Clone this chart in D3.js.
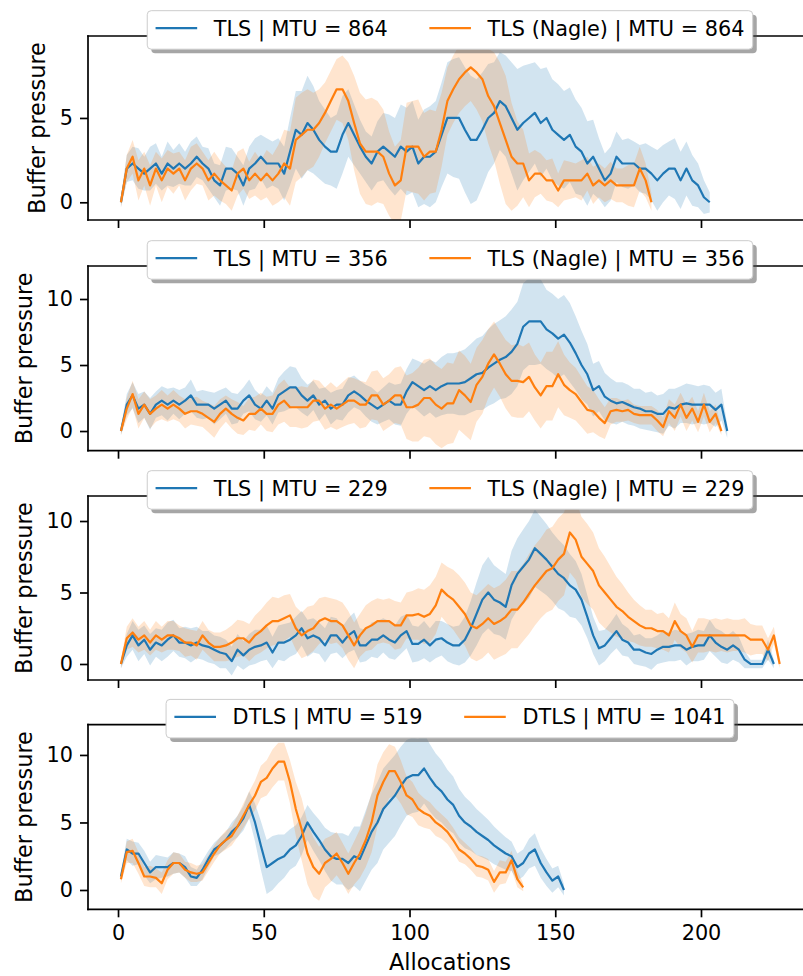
<!DOCTYPE html>
<html>
<head>
<meta charset="utf-8">
<script src="https://cdn.jsdelivr.net/npm/d3@7"></script>
<style>
  body { margin: 0; background: #fff; }
  svg { display: block; font-family: "DejaVu Sans", sans-serif; }
</style>
</head>
<body>
<div id="chart"></div>
<script>
// allocations are sampled every 2 steps, starting at 1
var allocStart = 1;
var allocStep = 2;

// panel 1 : MTU 864
var tls864Mean = [0, 2.0, 2.3, 2.0, 1.7, 2.0, 2.3, 1.7, 2.3, 2.0,
  2.3, 2.0, 2.3, 2.7, 2.3, 2.0, 1.3, 1.0, 2.0, 2.0,
  1.7, 1.0, 2.0, 2.3, 2.7, 2.3, 2.3, 2.3, 1.7, 3.0,
  4.3, 4.0, 4.7, 4.3, 3.7, 3.3, 3.0, 3.0, 4.0, 4.7,
  4.0, 3.3, 2.7, 2.3, 3.0, 3.3, 3.0, 2.7, 3.3, 3.0,
  3.3, 2.3, 2.7, 2.7, 3.0, 4.0, 5.0, 5.0, 5.0, 4.3,
  3.7, 3.7, 4.3, 5.0, 5.3, 6.0, 5.7, 5.0, 4.3, 4.7,
  5.0, 5.3, 4.7, 5.0, 4.3, 4.0, 3.7, 4.0, 3.3, 3.0,
  2.3, 2.7, 2.0, 1.3, 1.7, 2.7, 2.3, 2.3, 2.3, 2.0,
  2.0, 1.7, 1.3, 1.7, 2.0, 2.0, 1.3, 2.0, 1.3, 1.0,
  0.3, 0];
var tls864Sd = [0.3, 0.8, 1.0, 1.2, 1.0, 1.3, 1.2, 1.0, 1.3, 1.1,
  1.2, 1.0, 1.3, 1.2, 1.0, 1.2, 1.0, 1.2, 1.3, 1.2,
  1.0, 1.2, 1.3, 1.5, 1.3, 1.5, 1.3, 1.5, 1.6, 2.0,
  2.3, 2.6, 2.8, 2.6, 2.3, 2.2, 2.0, 2.2, 2.3, 2.0,
  1.8, 1.6, 1.5, 1.6, 1.8, 2.0, 2.2, 2.3, 2.5, 2.6,
  2.7, 2.6, 2.8, 3.0, 3.0, 3.1, 3.3, 3.5, 3.6, 3.7,
  3.8, 3.6, 3.4, 3.2, 3.0, 2.9, 3.0, 3.3, 3.6, 3.4,
  3.2, 3.0, 3.2, 3.0, 3.0, 3.0, 2.9, 2.8, 2.8, 2.6,
  2.5, 2.2, 1.8, 1.6, 1.6, 1.5, 1.4, 1.5, 1.3, 1.4,
  1.5, 1.6, 1.8, 1.7, 1.6, 1.8, 1.7, 1.6, 1.5, 1.3,
  1.0, 0.6];
var nagle864Mean = [0, 2.0, 2.7, 1.3, 2.0, 1.0, 2.0, 1.3, 2.0, 1.7,
  2.0, 1.3, 2.0, 2.3, 2.0, 1.3, 1.7, 1.3, 1.0, 0.7,
  1.7, 2.0, 1.3, 1.7, 1.3, 1.7, 1.3, 1.7, 2.3, 2.0,
  3.7, 4.0, 4.3, 4.3, 4.7, 5.3, 6.0, 6.7, 6.7, 6.0,
  4.7, 3.5, 3.0, 3.0, 3.0, 2.7, 1.7, 1.0, 1.3, 3.3,
  3.3, 3.3, 2.7, 3.0, 3.0, 4.3, 6.0, 6.7, 7.3, 7.7,
  8.0, 7.7, 7.3, 6.3, 5.7, 4.7, 3.7, 2.7, 2.3, 2.3,
  1.3, 1.7, 1.7, 1.3, 1.3, 0.7, 1.3, 1.3, 1.3, 1.3,
  1.7, 1.0, 1.3, 1.0, 1.3, 1.0, 1.0, 1.0, 1.0, 2.0,
  1.3, 0];
var nagle864Sd = [0.3, 0.8, 1.0, 1.2, 1.0, 1.2, 1.0, 1.3, 1.1, 1.2,
  1.0, 1.2, 1.3, 1.2, 1.0, 1.2, 1.3, 1.2, 1.1, 1.2,
  1.3, 1.2, 1.1, 1.3, 1.2, 1.4, 1.5, 1.7, 2.0, 2.2,
  2.5, 2.5, 2.4, 2.2, 2.0, 1.8, 1.8, 1.8, 2.0, 2.3,
  2.8, 3.0, 3.1, 3.2, 3.0, 2.8, 2.5, 2.3, 2.4, 2.6,
  2.7, 2.8, 2.6, 2.5, 2.4, 2.2, 2.0, 2.0, 2.0, 2.0,
  2.0, 2.2, 2.5, 2.8, 3.2, 3.6, 3.8, 3.2, 2.5, 2.0,
  1.6, 1.4, 1.2, 1.2, 1.3, 1.0, 1.2, 1.1, 1.0, 1.2,
  1.0, 1.1, 1.0, 1.0, 1.1, 1.0, 1.0, 1.2, 1.3, 1.3,
  1.0, 0.5];

// panel 2 : MTU 356
var tls356Mean = [0, 2.0, 2.7, 1.7, 2.0, 1.3, 2.0, 2.3, 2.0, 2.3,
  2.0, 2.3, 2.7, 2.0, 2.0, 2.0, 1.7, 2.0, 2.3, 1.7,
  1.7, 2.3, 2.7, 2.0, 1.7, 2.3, 1.7, 2.7, 3.0, 3.3,
  3.3, 2.7, 2.3, 2.7, 2.0, 2.3, 1.7, 2.0, 2.0, 2.7,
  3.0, 2.7, 2.3, 2.0, 1.7, 2.0, 2.3, 2.0, 2.0, 3.0,
  3.7, 3.4, 3.1, 3.4, 3.1, 3.4, 3.6, 3.6, 3.6, 3.7,
  4.0, 4.3, 4.4, 4.8, 5.1, 5.4, 5.6, 6.0, 6.6, 7.9,
  8.3, 8.3, 8.3, 7.7, 7.4, 7.0, 7.3, 6.7, 5.9, 5.0,
  4.3, 3.1, 3.4, 2.6, 2.3, 2.1, 2.2, 2.0, 1.8, 1.7,
  1.5, 1.5, 1.3, 1.3, 1.8, 1.7, 2.0, 2.1, 2.0, 2.0,
  2.0, 2.0, 1.6, 2.0, 0];
var tls356Sd = [0.3, 0.8, 1.0, 1.1, 1.0, 1.2, 1.0, 1.1, 1.2, 1.0,
  1.1, 1.0, 1.2, 1.0, 1.1, 1.0, 1.2, 1.1, 1.0, 1.2,
  1.1, 1.0, 1.2, 1.1, 1.0, 1.1, 1.2, 1.3, 1.5, 1.6,
  1.5, 1.3, 1.2, 1.1, 1.2, 1.0, 1.2, 1.1, 1.2, 1.3,
  1.2, 1.1, 1.2, 1.3, 1.2, 1.3, 1.4, 1.5, 1.6, 1.7,
  1.8, 1.9, 2.0, 2.0, 2.1, 2.2, 2.3, 2.3, 2.4, 2.5,
  2.6, 2.7, 2.8, 2.9, 3.0, 3.0, 3.1, 3.2, 3.2, 3.3,
  3.3, 3.3, 3.2, 3.0, 3.0, 3.0, 3.0, 3.0, 2.8, 2.6,
  2.3, 2.0, 1.9, 1.8, 1.7, 1.6, 1.5, 1.5, 1.4, 1.5,
  1.4, 1.5, 1.4, 1.5, 1.4, 1.5, 1.4, 1.5, 1.5, 1.4,
  1.5, 1.4, 1.3, 1.2, 0.5];
var nagle356Mean = [0, 1.7, 2.8, 1.3, 2.0, 1.3, 1.7, 2.0, 1.7, 2.0,
  1.7, 1.3, 1.5, 1.5, 1.3, 1.0, 0.7, 1.3, 1.7, 1.3,
  1.0, 0.8, 1.3, 1.3, 1.7, 1.3, 1.3, 2.0, 2.3, 1.8,
  1.8, 1.8, 1.8, 2.3, 2.3, 1.7, 2.0, 1.7, 2.0, 2.3,
  2.3, 2.0, 2.0, 2.7, 2.7, 2.0, 2.3, 2.7, 2.7, 1.8,
  1.8, 2.0, 2.5, 2.5, 2.0, 1.7, 2.1, 2.1, 3.1, 2.7,
  2.2, 3.5, 4.1, 5.1, 5.8, 5.1, 4.3, 3.8, 3.8, 3.7,
  4.1, 3.3, 2.7, 3.4, 3.4, 4.3, 3.5, 3.1, 2.8, 2.2,
  1.6, 1.5, 1.0, 0.6, 1.5, 1.6, 1.5, 1.6, 1.3, 1.2,
  1.2, 1.2, 0.8, 0.3, 1.5, 1.0, 2.0, 1.0, 1.7, 0.7,
  2.0, 0.7, 1.3, 0];
var nagle356Sd = [0.3, 0.8, 1.0, 1.1, 1.0, 1.1, 1.0, 1.1, 1.0, 1.1,
  1.0, 1.1, 1.0, 1.1, 1.0, 1.1, 1.2, 1.1, 1.0, 1.1,
  1.2, 1.1, 1.2, 1.3, 1.2, 1.3, 1.4, 1.5, 1.6, 1.5,
  1.5, 1.6, 1.5, 1.6, 1.5, 1.6, 1.7, 1.6, 1.7, 1.8,
  1.7, 1.8, 1.7, 1.8, 1.9, 2.0, 2.0, 2.1, 2.2, 2.4,
  2.6, 2.8, 2.9, 3.0, 3.0, 3.0, 3.1, 3.0, 3.0, 3.0,
  2.9, 2.8, 2.8, 2.6, 2.5, 2.5, 2.6, 2.7, 2.8, 2.7,
  2.6, 2.5, 2.5, 2.6, 2.6, 2.5, 2.3, 2.1, 2.0, 1.9,
  1.8, 1.6, 1.4, 1.2, 1.0, 0.9, 0.8, 0.8, 0.7, 0.7,
  0.7, 0.7, 0.8, 0.7, 0.9, 1.0, 0.9, 1.0, 0.9, 0.8,
  0.9, 0.8, 0.7, 0.3];

// panel 3 : MTU 229
var tls229Mean = [0, 1.3, 2.0, 1.3, 1.7, 1.0, 1.5, 1.3, 1.7, 2.0,
  1.5, 1.5, 1.3, 1.5, 1.3, 1.2, 1.0, 0.8, 0.7, 0.2,
  1.0, 0.6, 1.0, 1.2, 1.3, 1.5, 0.8, 1.5, 1.5, 1.7,
  2.0, 2.5, 1.8, 2.0, 1.8, 1.3, 2.0, 2.0, 1.5, 2.0,
  2.3, 1.3, 1.3, 1.7, 1.7, 2.0, 1.7, 1.5, 2.0, 2.3,
  1.4, 1.4, 1.7, 1.3, 1.7, 1.8, 1.5, 1.3, 1.3, 1.7,
  2.5, 3.5, 4.5, 5.0, 4.5, 4.3, 4.0, 5.5, 6.3, 6.8,
  7.3, 8.1, 7.7, 7.3, 6.8, 6.3, 6.0, 5.5, 5.2, 4.5,
  3.3, 2.0, 1.1, 1.3, 1.8, 2.3, 1.7, 1.5, 1.0, 1.0,
  0.8, 0.7, 1.0, 1.2, 1.2, 1.3, 1.3, 1.0, 1.2, 1.3,
  1.3, 2.0, 1.5, 1.2, 1.0, 1.3, 1.0, 0.3, 0, 0,
  0, 1.0, 0];
var tls229Sd = [0.3, 0.8, 1.0, 1.1, 1.0, 1.1, 1.0, 1.1, 1.2, 1.1,
  1.0, 1.1, 1.2, 1.1, 1.0, 1.1, 1.0, 1.1, 1.0, 1.0,
  1.1, 1.0, 1.1, 1.2, 1.1, 1.2, 1.1, 1.2, 1.3, 1.2,
  1.3, 1.2, 1.3, 1.2, 1.1, 1.2, 1.3, 1.2, 1.1, 1.2,
  1.3, 1.2, 1.1, 1.2, 1.3, 1.2, 1.3, 1.2, 1.3, 1.2,
  1.3, 1.2, 1.3, 1.2, 1.3, 1.2, 1.3, 1.3, 1.4, 1.6,
  1.9, 2.2, 2.4, 2.5, 2.4, 2.3, 2.3, 2.4, 2.5, 2.6,
  2.7, 2.7, 2.6, 2.5, 2.4, 2.4, 2.3, 2.2, 2.0, 1.8,
  1.5, 1.3, 1.2, 1.1, 1.1, 1.2, 1.1, 1.0, 1.0, 1.1,
  1.0, 1.1, 1.0, 1.1, 1.0, 1.1, 1.0, 1.1, 1.0, 1.1,
  1.0, 1.1, 1.0, 1.1, 1.0, 1.0, 0.9, 0.6, 0.3, 0.3,
  0.3, 0.7, 0.3];
var nagle229Mean = [0, 1.8, 2.2, 1.7, 2.0, 1.5, 2.0, 1.7, 2.0, 2.0,
  1.8, 1.5, 1.5, 1.3, 2.0, 1.5, 1.2, 1.2, 1.3, 1.5,
  1.8, 1.8, 1.5, 2.0, 2.3, 2.7, 3.0, 3.0, 3.2, 3.4,
  2.5, 2.0, 2.3, 2.5, 3.0, 3.2, 3.0, 3.0, 2.7, 2.0,
  1.3, 2.0, 2.5, 2.7, 3.0, 3.0, 3.0, 2.7, 2.7, 3.4,
  3.4, 3.5, 3.3, 3.5, 4.1, 5.2, 4.8, 4.5, 4.0, 3.5,
  2.7, 2.5, 2.8, 3.2, 2.8, 3.0, 3.3, 3.8, 3.8, 4.3,
  4.9, 5.5, 6.0, 6.5, 6.7, 7.3, 7.7, 9.2, 8.7, 7.5,
  7.0, 6.5, 5.5, 5.0, 4.5, 4.0, 3.7, 3.3, 3.0, 2.7,
  2.5, 2.5, 2.3, 2.3, 2.0, 3.0, 2.3, 2.0, 1.2, 2.0,
  2.0, 2.0, 2.0, 2.0, 2.0, 2.0, 2.0, 2.0, 1.7, 1.7,
  1.7, 1.0, 2.0, 0];
var nagle229Sd = [0.3, 0.8, 1.0, 0.9, 1.0, 0.9, 1.0, 0.9, 1.0, 1.0,
  0.9, 1.0, 0.9, 1.0, 1.0, 0.9, 1.0, 1.0, 1.1, 1.2,
  1.3, 1.2, 1.3, 1.4, 1.5, 1.6, 1.7, 1.6, 1.6, 1.5,
  1.5, 1.6, 1.7, 1.6, 1.6, 1.5, 1.6, 1.5, 1.6, 1.7,
  1.6, 1.5, 1.6, 1.7, 1.6, 1.5, 1.6, 1.7, 1.6, 1.6,
  1.7, 1.8, 1.9, 2.0, 2.0, 1.9, 2.0, 2.1, 2.2, 2.2,
  2.3, 2.3, 2.4, 2.4, 2.5, 2.5, 2.6, 2.7, 2.7, 2.7,
  2.8, 2.8, 2.8, 2.9, 2.9, 2.9, 2.9, 2.8, 2.8, 2.8,
  2.8, 2.7, 2.6, 2.5, 2.3, 2.1, 1.9, 1.7, 1.5, 1.4,
  1.3, 1.3, 1.2, 1.3, 1.2, 1.3, 1.2, 1.2, 1.1, 1.2,
  1.2, 1.1, 1.2, 1.1, 1.2, 1.1, 1.1, 1.2, 1.1, 1.0,
  1.0, 0.8, 0.6, 0.3];

// panel 4 : DTLS
var dtls519Mean = [1.0, 3.0, 2.7, 2.7, 2.0, 1.3, 1.7, 1.7, 1.7, 2.0,
  2.0, 1.7, 1.0, 0.9, 1.5, 2.3, 3.0, 3.3, 3.7, 4.3,
  4.7, 5.3, 6.3, 5.0, 3.3, 1.7, 2.0, 2.3, 2.5, 3.0,
  3.3, 4.0, 5.0, 4.3, 3.7, 3.0, 2.5, 2.3, 2.3, 2.0,
  2.5, 2.3, 3.3, 4.3, 5.0, 6.0, 6.5, 7.0, 7.7, 8.3,
  8.5, 8.5, 9.0, 8.3, 7.7, 7.3, 6.7, 6.3, 5.5, 5.0,
  4.7, 4.3, 4.0, 3.7, 3.3, 3.0, 2.7, 2.5, 1.7, 2.0,
  2.7, 3.0, 2.0, 1.3, 0.7, 1.0, 0];
var dtls519Sd = [0.3, 0.8, 0.9, 0.8, 0.9, 0.8, 0.9, 0.8, 0.7, 0.8,
  0.7, 0.8, 0.7, 0.6, 0.7, 0.6, 0.5, 0.6, 0.6, 0.7,
  0.8, 0.9, 1.0, 1.4, 1.8, 2.0, 2.0, 1.8, 1.6, 1.5,
  1.5, 1.4, 1.3, 1.4, 1.5, 1.6, 1.8, 1.9, 1.9, 2.0,
  2.2, 2.4, 2.6, 2.8, 3.0, 3.0, 3.0, 3.0, 2.9, 2.8,
  2.8, 2.7, 2.6, 2.5, 2.4, 2.3, 2.2, 2.1, 2.0, 1.9,
  1.8, 1.7, 1.6, 1.5, 1.4, 1.3, 1.2, 1.1, 1.0, 1.0,
  1.1, 1.2, 1.1, 1.0, 0.9, 0.8, 0.4];
var dtls1041Mean = [0.8, 2.8, 2.9, 2.0, 1.0, 1.0, 0.9, 0.5, 1.5, 2.0,
  2.0, 1.5, 1.3, 1.2, 1.3, 2.0, 2.7, 3.3, 3.7, 4.0,
  4.7, 5.5, 6.3, 7.0, 8.0, 8.3, 9.0, 9.5, 9.5, 8.0,
  6.0, 4.5, 2.7, 1.7, 1.2, 2.0, 2.3, 2.7, 2.0, 1.2,
  2.0, 2.7, 3.7, 5.0, 7.0, 8.0, 8.8, 8.8, 8.0, 7.0,
  6.7, 6.0, 5.7, 5.5, 5.0, 4.7, 4.3, 3.7, 3.0, 2.7,
  2.3, 1.8, 1.7, 1.5, 0.6, 1.3, 1.3, 2.2, 0.8, 0.2];
var dtls1041Sd = [0.3, 0.8, 0.9, 0.8, 0.7, 0.8, 0.7, 0.8, 0.7, 0.8,
  0.7, 0.6, 0.7, 0.6, 0.6, 0.6, 0.6, 0.6, 0.7, 0.7,
  0.8, 0.9, 1.0, 1.1, 1.2, 1.3, 1.4, 1.4, 1.4, 1.6,
  2.0, 2.3, 2.3, 2.2, 2.0, 1.8, 1.7, 1.6, 1.5, 1.5,
  1.6, 1.8, 2.0, 2.2, 2.3, 2.2, 2.0, 1.8, 1.6, 1.4,
  1.3, 1.2, 1.1, 1.0, 1.0, 0.9, 0.9, 0.9, 0.9, 0.8,
  0.8, 0.8, 0.8, 0.8, 0.8, 0.9, 0.8, 0.7, 0.6, 0.3];

var legend864 = ["TLS | MTU = 864", "TLS (Nagle) | MTU = 864"];
var legend356 = ["TLS | MTU = 356", "TLS (Nagle) | MTU = 356"];
var legend229 = ["TLS | MTU = 229", "TLS (Nagle) | MTU = 229"];
var legendDtls = ["DTLS | MTU = 519", "DTLS | MTU = 1041"];
var xTickValues = [0, 50, 100, 150, 200];
var yTicksSmall = [0, 5];
var yTicksLarge = [0, 5, 10];

var seriesColors = ["#1f77b4", "#ff7f0e"];

// SVG area
var svgWidth = 803;
var svgHeight = 976;
var plotLeft = 88;
var plotRight = 806.8;
var fontSize = 20.8;

var panels = [
  { top: 36, bottom: 220, yDomain: [-1.05, 9.86], yTicks: yTicksSmall, labelX: 45,
    series: [[tls864Mean, tls864Sd], [nagle864Mean, nagle864Sd]], legend: legend864 },
  { top: 266, bottom: 450.7, yDomain: [-1.49, 12.5], yTicks: yTicksLarge, labelX: 32,
    series: [[tls356Mean, tls356Sd], [nagle356Mean, nagle356Sd]], legend: legend356 },
  { top: 496, bottom: 680, yDomain: [-1.12, 11.75], yTicks: yTicksLarge, labelX: 32,
    series: [[tls229Mean, tls229Sd], [nagle229Mean, nagle229Sd]], legend: legend229 },
  { top: 724.7, bottom: 909.3, yDomain: [-1.43, 12.24], yTicks: yTicksLarge, labelX: 32,
    series: [[dtls519Mean, dtls519Sd], [dtls1041Mean, dtls1041Sd]], legend: legendDtls }
];

var svg = d3.select("#chart")
  .append("svg")
  .attr("width", svgWidth)
  .attr("height", svgHeight);

var xScale = d3.scaleLinear()
  .domain([-10.3, 236.3])
  .range([plotLeft, plotRight]);

function toPoints(mean, sd) {
  return mean.map(function(m, i) {
    return { x: allocStart + i * allocStep, m: m, s: sd[i] };
  });
}

panels.forEach(function(p, pi) {
  var yScale = d3.scaleLinear().domain(p.yDomain).range([p.bottom, p.top]);
  var g = svg.append("g");

  var clipId = "clip" + pi;
  svg.append("clipPath").attr("id", clipId)
    .append("rect")
    .attr("x", plotLeft).attr("y", p.top)
    .attr("width", plotRight - plotLeft).attr("height", p.bottom - p.top);

  var plot = g.append("g").attr("clip-path", "url(#" + clipId + ")");

  var band = d3.area()
    .x(d => xScale(d.x))
    .y0(d => yScale(d.m - d.s))
    .y1(d => yScale(d.m + d.s));

  var line = d3.line()
    .x(d => xScale(d.x))
    .y(d => yScale(d.m));

  var data = p.series.map(s => toPoints(s[0], s[1]));

  data.forEach(function(pts, si) {
    plot.append("path")
      .datum(pts)
      .attr("d", band)
      .attr("fill", seriesColors[si])
      .attr("fill-opacity", 0.2)
      .attr("stroke", "none");
  });
  data.forEach(function(pts, si) {
    plot.append("path")
      .datum(pts)
      .attr("d", line)
      .attr("fill", "none")
      .attr("stroke", seriesColors[si])
      .attr("stroke-width", 2.2)
      .attr("stroke-linejoin", "round");
  });

  // y axis
  var yAxis = g.append("g")
    .attr("transform", `translate(${plotLeft},0)`)
    .call(d3.axisLeft(yScale).tickValues(p.yTicks).tickSize(8).tickPadding(7));
  yAxis.select(".domain").remove();

  // x axis, labels only on the last panel
  var xAxis = g.append("g")
    .attr("transform", `translate(0,${p.bottom})`)
    .call(d3.axisBottom(xScale).tickValues(xTickValues).tickSize(8).tickPadding(8)
      .tickFormat(pi === panels.length - 1 ? d3.format("d") : ""));
  xAxis.select(".domain").remove();

  g.selectAll(".tick line").attr("stroke", "#000").attr("stroke-width", 1.7);
  g.selectAll(".tick text")
    .attr("fill", "#000")
    .style("font-family", "DejaVu Sans, sans-serif")
    .style("font-size", fontSize + "px");

  // spines: left, bottom, top
  g.append("line").attr("x1", plotLeft).attr("x2", plotLeft)
    .attr("y1", p.top).attr("y2", p.bottom)
    .attr("stroke", "#000").attr("stroke-width", 1.7).attr("stroke-linecap", "square");
  g.append("line").attr("x1", plotLeft).attr("x2", plotRight)
    .attr("y1", p.bottom).attr("y2", p.bottom)
    .attr("stroke", "#000").attr("stroke-width", 1.7).attr("stroke-linecap", "square");
  g.append("line").attr("x1", plotLeft).attr("x2", plotRight)
    .attr("y1", p.top).attr("y2", p.top)
    .attr("stroke", "#000").attr("stroke-width", 1.7).attr("stroke-linecap", "square");

  // y label
  g.append("text")
    .attr("transform", `translate(${p.labelX},${(p.top + p.bottom) / 2}) rotate(-90)`)
    .attr("text-anchor", "middle")
    .style("font-size", "22.4px")
    .text("Buffer pressure");

  // legend (2 columns, shadow, centered over top spine)
  var em = fontSize;
  var borderPad = 0.4 * em, handleLen = 2 * em, handlePad = 0.8 * em, colSpace = 2 * em;
  var lg = g.append("g");
  var shadow = lg.append("rect");
  var box = lg.append("rect");
  var items = lg.append("g");
  var cursor = borderPad;
  p.legend.forEach(function(label, li) {
    items.append("line")
      .attr("x1", cursor).attr("x2", cursor + handleLen)
      .attr("y1", 17.5).attr("y2", 17.5)
      .attr("stroke", seriesColors[li]).attr("stroke-width", 2.2);
    var t = items.append("text")
      .attr("x", cursor + handleLen + handlePad)
      .attr("y", 25)
      .style("font-size", fontSize + "px")
      .text(label);
    cursor += handleLen + handlePad + t.node().getComputedTextLength();
    if (li < p.legend.length - 1) cursor += colSpace;
  });
  var boxW = cursor + borderPad;
  var boxH = 38.5;
  shadow.attr("x", 4).attr("y", 4).attr("width", boxW).attr("height", boxH)
    .attr("rx", 4).attr("fill", "#4d4d4d").attr("fill-opacity", 0.5);
  box.attr("width", boxW).attr("height", boxH).attr("rx", 4)
    .attr("fill", "#fff").attr("stroke", "#cccccc").attr("stroke-width", 1);
  lg.attr("transform", `translate(${450 - boxW / 2},${p.top - 25.3})`);
});

// x label
svg.append("text")
  .attr("x", 450)
  .attr("y", 970)
  .attr("text-anchor", "middle")
  .style("font-size", "22.4px")
  .text("Allocations");
</script>
</body>
</html>
